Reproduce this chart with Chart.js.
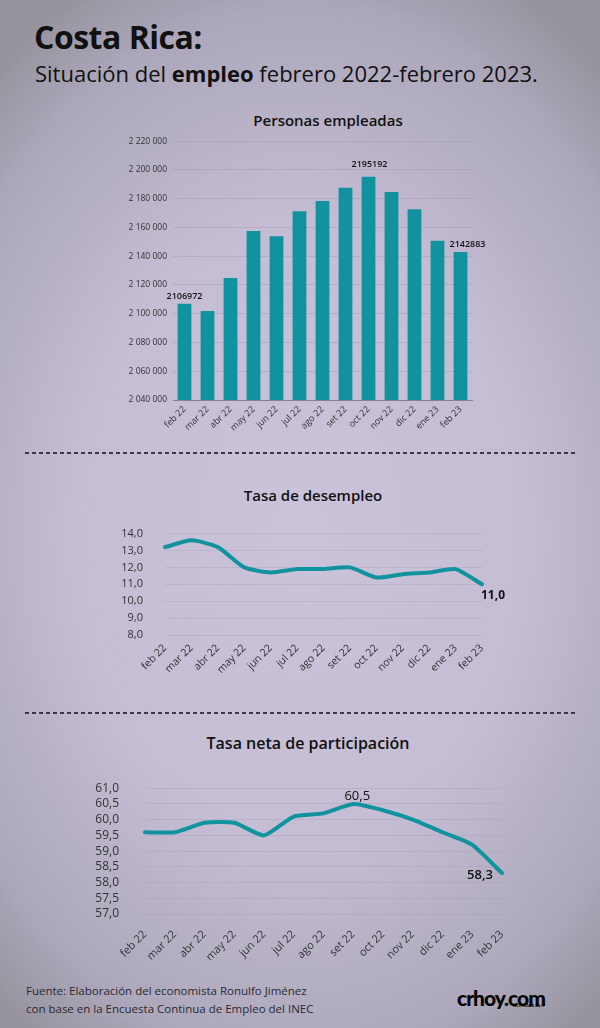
<!DOCTYPE html>
<html lang="es">
<head>
<meta charset="UTF-8">
<title>Costa Rica: situación del empleo</title>
<script src="https://cdn.jsdelivr.net/npm/chart.js"></script>
<style>
  body {
    margin: 0; width: 600px; height: 1028px; position: relative; overflow: hidden;
    font-family: "Open Sans", sans-serif; color: #111;
    background: radial-gradient(ellipse 75% 60% at 50% 52%, #cbc3da 0%, #c5bdd4 50%, #aca7ba 85%, #98949f 100%);
  }
  .abs { position: absolute; }
  h1 { margin: 0; font-size: 32px; font-weight: 700; letter-spacing: -0.5px; left: 34px; top: 15px; }
  .sub { left: 35px; top: 58px; font-size: 22px; font-weight: 400; }
  .tit { width: 300px; text-align: center; font-size: 15px; font-weight: 600; line-height: 20px; }
  .raya { left: 25px; width: 550px; height: 1.5px;
    background: repeating-linear-gradient(90deg, #3a3a46 0 4px, transparent 4px 7px); }
  .fuente { left: 26px; top: 982px; font-size: 11.5px; line-height: 18px; color: #2a2a30; }
  .logo { left: 457px; top: 985px; font-family: Lato, sans-serif; font-weight: 900; font-size: 21px; letter-spacing: -1px; color: #000; }
  .logo span { display: block; font-size: 4.5px; letter-spacing: 0; text-align: right; margin-top: -7px; }
  canvas { position: absolute; }
</style>
</head>
<body>
<h1 class="abs">Costa Rica:</h1>
<div class="abs sub">Situación del <b>empleo</b> febrero 2022-febrero 2023.</div>

<div class="abs tit" style="left:178px; top:110px;">Personas empleadas</div>
<canvas id="empleados" width="400" height="315" style="left:100px; top:130px;"></canvas>

<div class="abs raya" style="top:452px;"></div>

<div class="abs tit" style="left:163px; top:485px;">Tasa de desempleo</div>
<canvas id="desempleo" width="500" height="175" style="left:40px; top:505px;"></canvas>

<div class="abs raya" style="top:712px;"></div>

<div class="abs tit" style="left:158px; top:733px; font-size:16px;">Tasa neta de participación</div>
<canvas id="participacion" width="520" height="205" style="left:20px; top:755px;"></canvas>

<div class="abs fuente">Fuente: Elaboración del economista Ronulfo Jiménez<br>con base en la Encuesta Continua de Empleo del INEC</div>
<div class="abs logo">crhoy.com<span>NOTICIAS 24/7</span></div>

<script>
  // datos
  const meses = ['feb 22', 'mar 22', 'abr 22', 'may 22', 'jun 22', 'jul 22', 'ago 22', 'set 22', 'oct 22', 'nov 22', 'dic 22', 'ene 23', 'feb 23'];
  const empleados = [2106972, 2101800, 2124900, 2157500, 2153800, 2171200, 2178300, 2187600, 2195192, 2184600, 2172600, 2150800, 2142883];
  const ticksEmpleados = [2040000, 2060000, 2080000, 2100000, 2120000, 2140000, 2160000, 2180000, 2200000, 2220000];
  const desempleo = [13.2, 13.6, 13.2, 12.0, 11.7, 11.9, 11.9, 12.0, 11.4, 11.6, 11.7, 11.9, 11.0];
  const ticksDesempleo = [8, 9, 10, 11, 12, 13, 14];
  const participacion = [59.6, 59.6, 59.9, 59.9, 59.5, 60.1, 60.2, 60.5, 60.3, 60.0, 59.6, 59.2, 58.3];
  const ticksParticipacion = [57, 57.5, 58, 58.5, 59, 59.5, 60, 60.5, 61];

  const teal = '#10939e';
  const conEspacios = v => String(v).replace(/\B(?=(\d{3})+(?!\d))/g, ' ');
  const conComa = v => v.toFixed(1).replace('.', ',');

  // etiquetas de valor sobre algunos puntos
  const etiquetas = {
    id: 'etiquetas',
    afterDatasetsDraw(chart, args, opts) {
      const ctx = chart.ctx;
      const meta = chart.getDatasetMeta(0);
      const datos = chart.data.datasets[0].data;
      ctx.save();
      ctx.fillStyle = '#111';
      ctx.textAlign = 'center';
      ctx.textBaseline = 'middle';
      opts.items.forEach(it => {
        const el = meta.data[it.i];
        ctx.font = it.font;
        ctx.fillText(opts.fmt(datos[it.i]), el.x + it.dx, el.y + it.dy);
      });
      ctx.restore();
    }
  };

  function ejeY(ticks, ancho, pad, size, fmt, gridColor) {
    return {
      min: ticks[0],
      max: ticks[ticks.length - 1],
      afterBuildTicks: s => { s.ticks = ticks.map(v => ({ value: v })); },
      afterFit: s => { s.width = ancho; },
      border: { display: false },
      grid: { color: gridColor, drawTicks: false },
      ticks: { padding: pad, autoSkip: false, color: '#333', font: { family: 'Open Sans', size: size }, callback: fmt }
    };
  }

  function ejeX(alto, pad, size, offset, borde) {
    return {
      offset: offset,
      afterFit: s => { s.height = alto; },
      grid: { display: false, drawTicks: false },
      border: { display: borde, color: '#85828f', width: 1 },
      ticks: { padding: pad, minRotation: 45, maxRotation: 45, autoSkip: false, color: '#333', font: { family: 'Open Sans', size: size } }
    };
  }

  Chart.defaults.animation = false;
  Chart.defaults.plugins.legend.display = false;
  Chart.defaults.plugins.tooltip.enabled = false;

  new Chart(document.getElementById('empleados'), {
    type: 'bar',
    data: {
      labels: meses,
      datasets: [{ data: empleados, backgroundColor: teal, barPercentage: 0.6, categoryPercentage: 1 }]
    },
    options: {
      responsive: false,
      layout: { padding: { top: 10, right: 28, left: 0, bottom: 0 } },
      scales: {
        x: ejeX(45, 4, 9, true, true),
        y: ejeY(ticksEmpleados, 73, 6, 8.5, conEspacios, 'rgba(150,145,170,0.35)')
      },
      plugins: {
        etiquetas: {
          fmt: v => String(v),
          items: [
            { i: 0, dx: 0, dy: -7, font: '600 9px "Open Sans"' },
            { i: 8, dx: 1, dy: -12, font: '600 9px "Open Sans"' },
            { i: 12, dx: 7, dy: -8, font: '600 9px "Open Sans"' }
          ]
        }
      }
    },
    plugins: [etiquetas]
  });

  const linea = {
    borderColor: teal, borderWidth: 4, pointRadius: 0, tension: 0.2, fill: false,
    borderCapStyle: 'round', borderJoinStyle: 'round'
  };

  new Chart(document.getElementById('desempleo'), {
    type: 'line',
    data: { labels: meses, datasets: [Object.assign({ data: desempleo }, linea)] },
    options: {
      responsive: false,
      layout: { padding: { top: 18, right: 58, left: 0, bottom: 0 } },
      scales: {
        x: ejeX(45, 7, 10.5, false, false),
        y: ejeY(ticksDesempleo, 125, 22, 11, conComa, 'rgba(150,145,170,0.25)')
      },
      plugins: {
        etiquetas: {
          fmt: conComa,
          items: [{ i: 12, dx: 11, dy: 11, font: '700 12px "Open Sans"' }]
        }
      }
    },
    plugins: [etiquetas]
  });

  new Chart(document.getElementById('participacion'), {
    type: 'line',
    data: { labels: meses, datasets: [Object.assign({ data: participacion }, linea)] },
    options: {
      responsive: false,
      layout: { padding: { top: 17, right: 38, left: 0, bottom: 0 } },
      scales: {
        x: ejeX(46, 14, 11, false, false),
        y: ejeY(ticksParticipacion, 125, 26, 12, conComa, 'rgba(150,145,170,0.25)')
      },
      plugins: {
        etiquetas: {
          fmt: conComa,
          items: [
            { i: 7, dx: 4, dy: -8, font: '500 13px "Open Sans"' },
            { i: 12, dx: -22, dy: 2, font: '600 13px "Open Sans"' }
          ]
        }
      }
    },
    plugins: [etiquetas]
  });
</script>
</body>
</html>
